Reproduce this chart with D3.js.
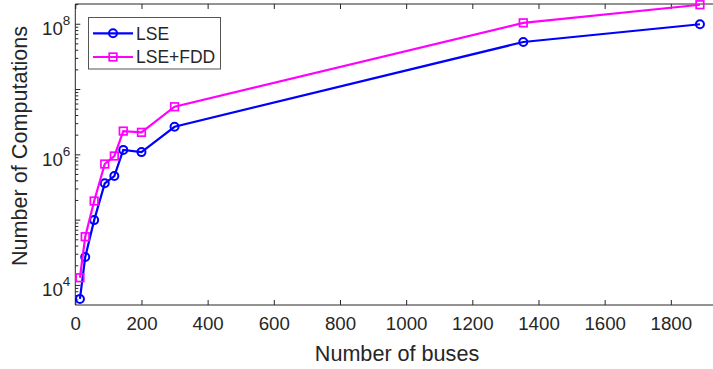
<!DOCTYPE html>
<html>
<head>
<meta charset="utf-8">
<script src="https://cdn.jsdelivr.net/npm/d3@7"></script>
<style>
html,body{margin:0;padding:0;background:#fff;}
svg{display:block;}
text{font-family:"Liberation Sans",Arial,Helvetica,sans-serif;fill:#262626;}
</style>
</head>
<body>
<svg id="chart" width="713" height="369"></svg>
<script>
const buses = [14, 30, 57, 89, 118, 145, 200, 300, 1354, 1888];
const lse    = [6200, 27200, 100000, 366000, 473000, 1190000, 1100000, 2690000, 53400000, 100000000];
const lseFdd = [13100, 55700, 196000, 723000, 959000, 2310000, 2210000, 5450000, 105000000, 199000000];
const seriesNames = ["LSE", "LSE+FDD"];
const xTicks = [0, 200, 400, 600, 800, 1000, 1200, 1400, 1600, 1800];
const yEven = [4, 6, 8];

const svg = d3.select("#chart");
const L = 75.3, T = 4, B = 305, R = 737;
const x = d3.scaleLinear().domain([0, 2000]).range([L, R]);
const y = d3.scaleLog().domain([Math.pow(10, 3.70), Math.pow(10, 8.31)]).range([B, T]);
const axisColor = "#262626";

// Axes box
const g = svg.append("g");
g.append("line").attr("x1", L).attr("x2", R).attr("y1", B).attr("y2", B).attr("stroke", axisColor).attr("stroke-width", 1);
g.append("line").attr("x1", L).attr("x2", R).attr("y1", T).attr("y2", T).attr("stroke", axisColor).attr("stroke-width", 1);
g.append("line").attr("x1", L).attr("x2", L).attr("y1", T).attr("y2", B).attr("stroke", axisColor).attr("stroke-width", 1);

// X ticks (bottom and top, inward)
const xAxisB = d3.axisBottom(x).tickValues(xTicks).tickSizeInner(-5).tickSizeOuter(0).tickPadding(12).tickFormat(d3.format("d"));
const gxb = svg.append("g").attr("transform", `translate(0,${B})`).call(xAxisB);
gxb.select(".domain").remove();
gxb.selectAll(".tick line").attr("stroke", axisColor);
gxb.selectAll(".tick text").attr("font-size", 18.7).attr("fill", axisColor)
  .style("font-family", '"Liberation Sans",Arial,sans-serif');

const xAxisT = d3.axisTop(x).tickValues(xTicks).tickSizeInner(-5).tickSizeOuter(0).tickFormat("");
const gxt = svg.append("g").attr("transform", `translate(0,${T})`).call(xAxisT);
gxt.select(".domain").remove();
gxt.selectAll(".tick line").attr("stroke", axisColor);

// Y ticks: major + minor (inward)
const minor = [];
for (let e = 3; e <= 8; e++) for (let m = 1; m <= 9; m++) {
  const v = m * Math.pow(10, e);
  if (v >= y.domain()[0] && v <= y.domain()[1]) minor.push({v, major: m === 1});
}
svg.append("g").selectAll("line").data(minor).join("line")
  .attr("x1", L).attr("x2", d => L + (d.major ? 5 : 3))
  .attr("y1", d => y(d.v)).attr("y2", d => y(d.v))
  .attr("stroke", axisColor).attr("stroke-width", 1);

// Y tick labels 10^n
const yl = svg.append("g").selectAll("text").data(yEven).join("text")
  .attr("text-anchor", "end")
  .attr("x", L - 5)
  .attr("y", d => y(Math.pow(10, d)) + 11)
  .attr("font-size", 18.7);
yl.append("tspan").text("10");
yl.append("tspan").attr("font-size", 13.5).attr("dy", -10).text(d => d);

// Axis labels
svg.append("text").attr("x", 397).attr("y", 361).attr("text-anchor", "middle")
  .attr("font-size", 21.6).text("Number of buses");
svg.append("text").attr("transform", "translate(27,146) rotate(-90)").attr("text-anchor", "middle")
  .attr("font-size", 21.6).text("Number of Computations");

const series = [
  {name: seriesNames[0], vals: lse, color: "#0000ff", marker: "circle"},
  {name: seriesNames[1], vals: lseFdd, color: "#ff00ff", marker: "square"}
];
const line = d3.line().x(d => x(d[0])).y(d => y(d[1]));

function drawMarker(sel, s, cx, cy) {
  if (s.marker === "circle") {
    sel.append("circle").attr("cx", cx).attr("cy", cy).attr("r", 4)
      .attr("fill", "none").attr("stroke", s.color).attr("stroke-width", 2);
  } else {
    sel.append("rect").attr("x", cx - 3.8).attr("y", cy - 3.8)
      .attr("width", 7.6).attr("height", 7.6)
      .attr("fill", "none").attr("stroke", s.color).attr("stroke-width", 1.7);
  }
}

series.forEach(s => {
  const pts = buses.map((b, i) => [b, s.vals[i]]);
  const sg = svg.append("g");
  sg.append("path").datum(pts).attr("d", line).attr("fill", "none")
    .attr("stroke", s.color).attr("stroke-width", 2.2);
  pts.forEach(p => drawMarker(sg, s, x(p[0]), y(p[1])));
});

// Legend
const lg = svg.append("g");
lg.append("rect").attr("x", 88.5).attr("y", 17.5).attr("width", 132).attr("height", 51.5)
  .attr("fill", "#fff").attr("stroke", "#555").attr("stroke-width", 1);
series.forEach((s, i) => {
  const cy = 33.3 + i * 23.7;
  lg.append("line").attr("x1", 93).attr("x2", 133).attr("y1", cy).attr("y2", cy)
    .attr("stroke", s.color).attr("stroke-width", 2.2);
  drawMarker(lg, s, 113, cy);
  lg.append("text").attr("x", 136).attr("y", cy + 6.3).attr("font-size", 17.5).attr("fill", "#000").text(s.name);
});
</script>
</body>
</html>
